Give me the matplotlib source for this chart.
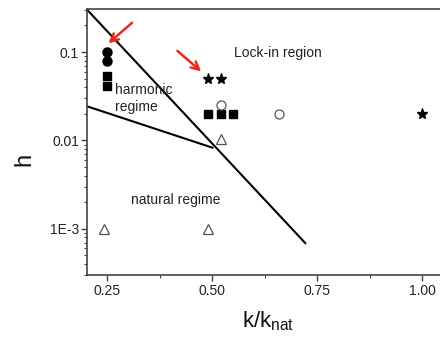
import matplotlib
matplotlib.use("Agg")
import matplotlib.pyplot as plt
from matplotlib.ticker import FixedLocator, LogLocator, NullFormatter

plt.rcParams['font.family'] = ['Liberation Sans', 'DejaVu Sans']
plt.rcParams['mathtext.fontset'] = 'custom'
plt.rcParams['mathtext.rm'] = 'Liberation Sans'
plt.rcParams['mathtext.it'] = 'Liberation Sans'

# Data
filled_circle_x = [0.25, 0.25]
filled_circle_h = [0.10, 0.08]
filled_square_x = [0.25, 0.25, 0.49, 0.52, 0.55]
filled_square_h = [0.053, 0.041, 0.02, 0.02, 0.02]
star_x = [0.49, 0.52, 1.00]
star_h = [0.05, 0.05, 0.02]
open_circle_x = [0.52, 0.66]
open_circle_h = [0.025, 0.02]
open_triangle_x = [0.52, 0.243, 0.49]
open_triangle_h = [0.0105, 0.001, 0.001]

line1_x = [0.2024, 0.7214]
line1_h = [0.30, 0.00069]
line2_x = [0.2024, 0.50]
line2_h = [0.0243, 0.0083]

x_ticks = [0.25, 0.50, 0.75, 1.00]
x_tick_labels = ["0.25", "0.50", "0.75", "1.00"]
y_ticks = [0.1, 0.01, 0.001]
y_tick_labels = ["0.1", "0.01", "1E-3"]

fig = plt.figure(figsize=(4.4, 3.44), dpi=100)
x0, x1 = 0.2024, 1.10
ax = fig.add_axes([87.3/440, (344-275.3)/344, (x1-x0)*420/440, (275.3-9.3)/344])

ax.set_yscale('log')
ax.set_xlim(x0, x1)
ax.set_ylim(2.98e-4, 0.305)

ax.plot(line1_x, line1_h, color='black', lw=1.5, zorder=2)
ax.plot(line2_x, line2_h, color='black', lw=1.5, zorder=2)

ax.plot(filled_circle_x, filled_circle_h, 'o', color='black', ms=6.5, ls='none', zorder=3)
ax.plot(filled_square_x, filled_square_h, 's', color='black', ms=5.2, ls='none', zorder=3)
ax.plot(star_x, star_h, '*', color='black', ms=8, ls='none', zorder=3)
ax.plot(open_circle_x, open_circle_h, 'o', mfc='white', mec='#555555', mew=0.9, ms=6.5, ls='none', zorder=3)
ax.plot(open_triangle_x, open_triangle_h, '^', mfc='white', mec='#555555', mew=0.9, ms=7.5, ls='none', zorder=3)

# Red arrows
ax.annotate('', xy=(0.2476, 0.12), xytext=(0.314, 0.225),
            arrowprops=dict(arrowstyle='->', color='#e8281e', lw=1.8, mutation_scale=14))
ax.annotate('', xy=(0.4786, 0.0577), xytext=(0.412, 0.108),
            arrowprops=dict(arrowstyle='->', color='#e8281e', lw=1.8, mutation_scale=14))

# Region labels
ax.text(0.552, 0.097, "Lock-in region", fontsize=10, color='#222222', va='center', ha='left')
ax.text(0.269, 0.030, "harmonic\nregime", fontsize=10, color='#222222', va='center', ha='left',
        linespacing=1.3)
ax.text(0.307, 0.0021, "natural regime", fontsize=10, color='#222222', va='center', ha='left')

# Axes styling
for s in ['left', 'bottom', 'top']:
    ax.spines[s].set_color('#444444')
    ax.spines[s].set_linewidth(1.2)
ax.spines['right'].set_visible(False)

ax.xaxis.set_major_locator(FixedLocator(x_ticks))
ax.set_xticklabels(x_tick_labels)
ax.xaxis.set_minor_locator(FixedLocator([0.375, 0.625, 0.875]))
ax.yaxis.set_major_locator(FixedLocator(y_ticks))
ax.set_yticklabels(y_tick_labels)
ax.yaxis.set_minor_locator(LogLocator(base=10, subs=range(2, 10)))
ax.yaxis.set_minor_formatter(NullFormatter())

ax.tick_params(which='major', direction='out', length=4, width=1.0, color='#444444',
               labelsize=10, labelcolor='#222222', pad=2)
ax.tick_params(which='minor', direction='out', length=2.5, width=0.8, color='#444444')
ax.tick_params(top=False, right=False, which='both')

fig.text(24/440, 1 - 159/344, "h", fontsize=17, color='#111111', rotation=90,
         ha='center', va='center')
ax.set_xlabel(r"k/k$_{\mathrm{nat}}$", fontsize=16, color='#111111')
ax.xaxis.set_label_coords((268 - 87.3) / ((x1 - x0) * 420), -0.13)

fig.savefig("out.png", dpi=100)
